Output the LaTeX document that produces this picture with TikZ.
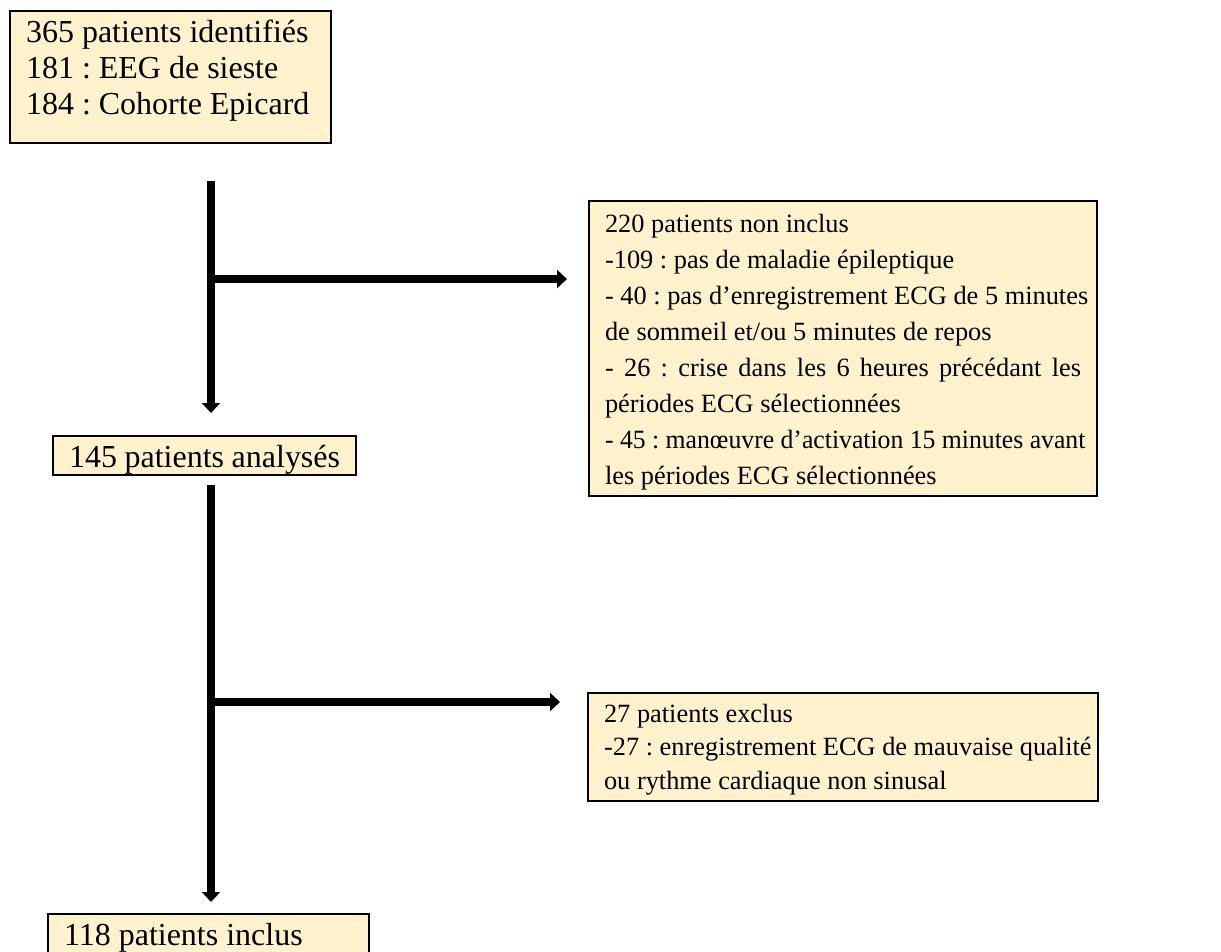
\documentclass[tikz,border=0pt]{standalone}
\usepackage{graphicx}
\usepackage{fontspec}
\setmainfont{Liberation Serif}
\frenchspacing
\usetikzlibrary{arrows.meta}
\colorlet{boxcol}{rgb,255:red,255;green,242;blue,204}
\tikzstyle{box}=[draw, fill=boxcol, line width=1.2pt, anchor=north west,
  inner xsep=0.32cm, inner ysep=0.12cm, font=\fontsize{18.2}{20.5}\selectfont]
\tikzstyle{notebox}=[box, font=\fontsize{15}{20.5}\selectfont]
\tikzstyle{flow}=[-{Triangle[width=0.36cm,length=0.2cm]}, line width=0.16cm]
% text block of fixed size, text at the top
\newcommand{\boxtext}[3]{\parbox[c][#2][t]{#1}{\strut#3}}

\begin{document}
\begin{tikzpicture}
  \useasboundingbox (0,0) rectangle (24.42,-19.02);
  % Boxes
  \node[box] (ident) at (0.18,-0.20) {\boxtext{5.78cm}{2.40cm}{%
    365 patients identifiés\\
    181 : EEG de sieste\\
    184 : Cohorte Epicard}};
  \node[notebox] (noninc) at (11.76,-4.00) {\boxtext{9.52cm}{5.66cm}{%
    220 patients non inclus\\
    -109 : pas de maladie épileptique\\
    \mbox{- 40 : pas d’enregistrement ECG de 5 minutes}\\
    de sommeil et/ou 5 minutes de repos\\
    \makebox[\linewidth][s]{- 26 : crise dans les 6 heures précédant les}\\
    périodes ECG sélectionnées\\
    \scalebox{0.975}[1]{- 45 : manœuvre d’activation 15 minutes avant}\\
    les périodes ECG sélectionnées}};
  \node[box] (analys) at (1.04,-8.70) {\boxtext{5.42cm}{0.54cm}{%
    145 patients analysés}};
  \node[notebox, font=\fontsize{15}{19}\selectfont]
    (exclus) at (11.74,-13.84) {\boxtext{9.56cm}{1.92cm}{%
    27 patients exclus\\
    \mbox{-27 : enregistrement ECG de mauvaise qualité}\\
    ou rythme cardiaque non sinusal}};
  \node[box] (inclus) at (0.94,-18.26) {\boxtext{5.78cm}{0.54cm}{%
    118 patients inclus}};
  % Flow
  \coordinate (s1) at (4.22,-3.62);
  \coordinate (j1) at (4.22,-5.58);
  \coordinate (j2) at (4.22,-14.04);
  \draw[flow, shorten >=0.44cm] (s1) -- (s1 |- analys.north);
  \draw[flow, shorten >=0.42cm] (j1) -- (j1 -| noninc.west);
  \draw[flow, shorten <=0.18cm, shorten >=0.22cm]
    (analys.south -| s1) -- (inclus.north -| s1);
  \draw[flow, shorten >=0.54cm] (j2) -- (j2 -| exclus.west);
\end{tikzpicture}
\end{document}
